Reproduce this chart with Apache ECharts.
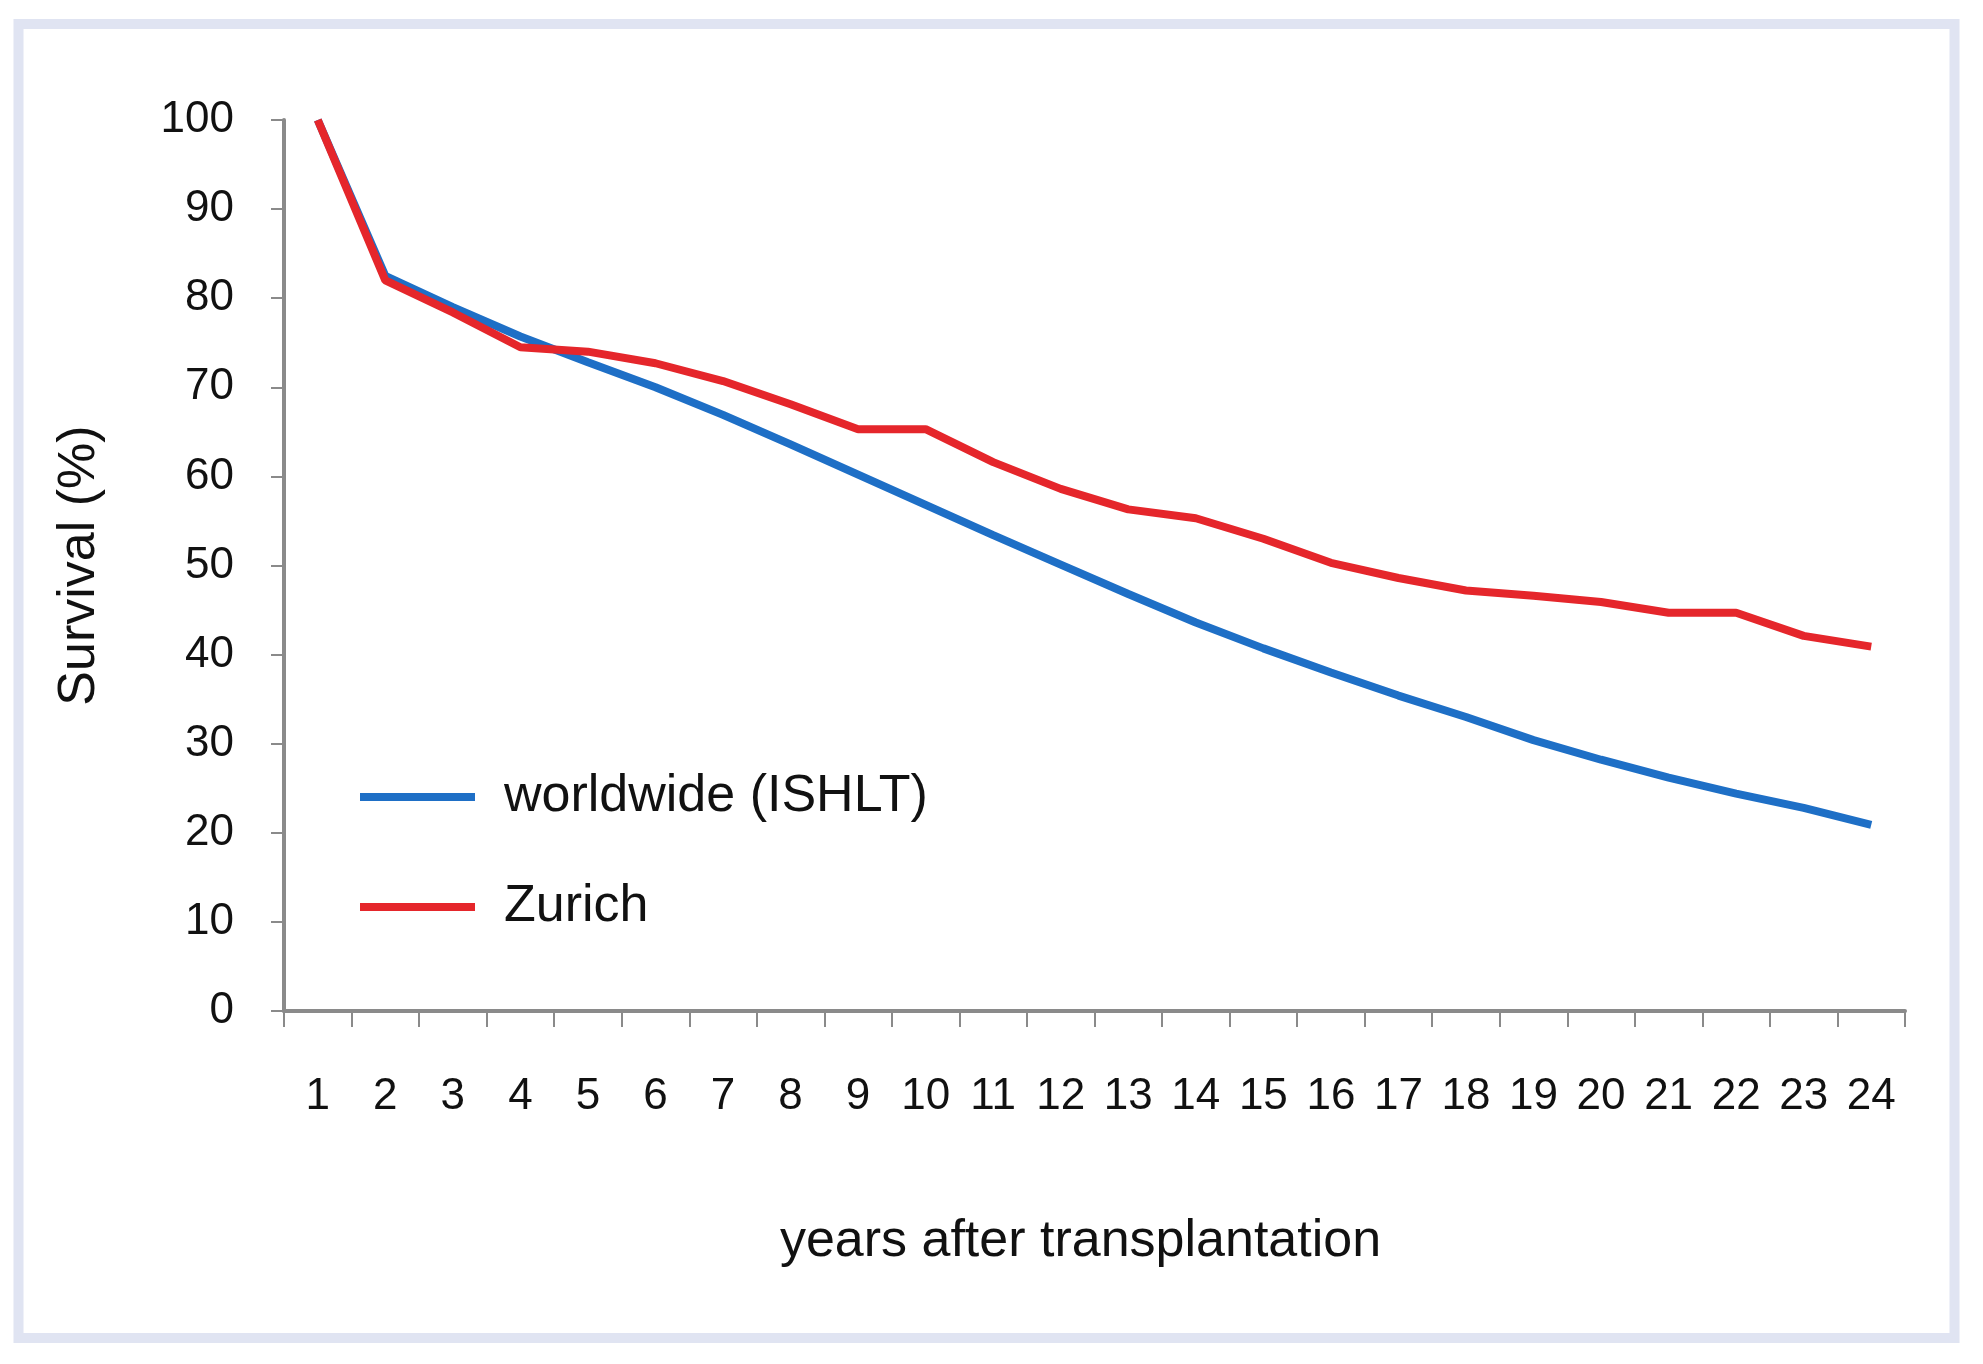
<!DOCTYPE html>
<html>
<head>
<meta charset="utf-8">
<script src="https://cdn.jsdelivr.net/npm/echarts@6/dist/echarts.min.js"></script>
<style>
html,body{margin:0;padding:0;background:#fff;}
#chart{width:1983px;height:1364px;}
</style>
</head>
<body>
<div id="chart"></div>
<script>
const years = ['1','2','3','4','5','6','7','8','9','10','11','12','13','14','15','16','17','18','19','20','21','22','23','24'];
const worldwide = [100, 82.5, 79, 75.7, 72.8, 70, 66.9, 63.6, 60.2, 56.8, 53.4, 50.1, 46.8, 43.6, 40.7, 38, 35.4, 33, 30.4, 28.2, 26.2, 24.4, 22.8, 20.9];
const zurich = [100, 82, 78.4, 74.5, 74, 72.7, 70.7, 68.1, 65.3, 65.3, 61.6, 58.6, 56.3, 55.3, 53, 50.3, 48.6, 47.2, 46.6, 45.9, 44.7, 44.7, 42.1, 40.9];
const seriesNames = ['worldwide (ISHLT)', 'Zurich'];
const yAxisTitle = 'Survival (%)';
const xAxisTitle = 'years after transplantation';

const FONT = '"Liberation Sans", Arial, sans-serif';
const chart = echarts.init(document.getElementById('chart'));
const legendText = {fontFamily: FONT, fontSize: 52, color: '#111', padding: [0, 0, 0, 24]};
chart.setOption({
  backgroundColor: '#fff',
  animation: false,
  graphic: [{
    type: 'rect',
    shape: {x: 18.5, y: 24, width: 1936, height: 1314},
    style: {fill: 'none', stroke: '#e0e4f2', lineWidth: 10},
    silent: true
  }],
  grid: {left: 284, right: 78, top: 120, bottom: 353},
  legend: [
    {data: [seriesNames[0]], left: 355, top: 766, icon: 'rect', itemWidth: 115, itemHeight: 8, textStyle: legendText},
    {data: [seriesNames[1]], left: 355, top: 876, icon: 'rect', itemWidth: 115, itemHeight: 8, textStyle: legendText}
  ],
  xAxis: {
    type: 'category',
    data: years,
    boundaryGap: true,
    name: xAxisTitle,
    nameLocation: 'middle',
    nameGap: 205,
    nameTextStyle: {fontFamily: FONT, fontSize: 52, color: '#111', padding: [0, 28, 0, 0]},
    axisLine: {lineStyle: {color: '#8a8a8a', width: 4}},
    axisTick: {show: true, length: 16, alignWithLabel: false, lineStyle: {color: '#8a8a8a', width: 2}},
    axisLabel: {fontFamily: FONT, fontSize: 44, color: '#111', margin: 64, interval: 0},
    splitLine: {show: false}
  },
  yAxis: {
    type: 'value',
    min: 0, max: 100, interval: 10,
    name: yAxisTitle,
    nameLocation: 'middle',
    nameGap: 178,
    nameTextStyle: {fontFamily: FONT, fontSize: 52, color: '#111'},
    axisLine: {show: true, lineStyle: {color: '#8a8a8a', width: 4}},
    axisTick: {show: true, length: 13, lineStyle: {color: '#8a8a8a', width: 2}},
    axisLabel: {fontFamily: FONT, fontSize: 44, color: '#111', margin: 50},
    splitLine: {show: false}
  },
  series: [
    {name: seriesNames[0], type: 'line', data: worldwide, showSymbol: false, symbol: 'none',
     lineStyle: {color: '#1e6fc6', width: 8}, itemStyle: {color: '#1e6fc6'}, z: 2},
    {name: seriesNames[1], type: 'line', data: zurich, showSymbol: false, symbol: 'none',
     lineStyle: {color: '#e5262b', width: 8}, itemStyle: {color: '#e5262b'}, z: 3}
  ]
});
</script>
</body>
</html>
